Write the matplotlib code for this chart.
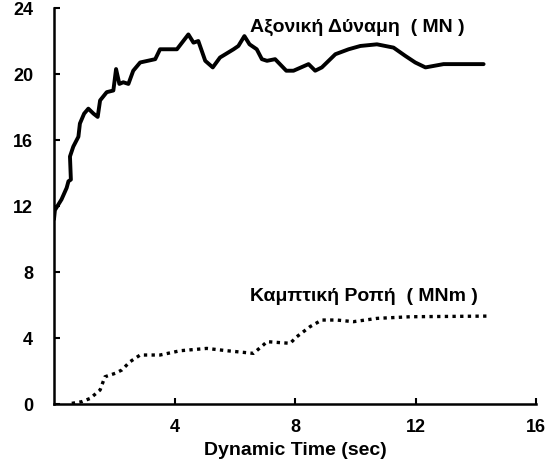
import matplotlib
matplotlib.use("Agg")
import matplotlib.pyplot as plt

plt.rcParams['font.family'] = ['Liberation Sans', 'DejaVu Sans']
plt.rcParams['font.weight'] = 'bold'

# axial force (MN) vs dynamic time (sec)
t_axial = [0.0, 0.03, 0.25, 0.42, 0.48, 0.56, 0.53, 0.64, 0.81, 0.86, 1.0, 1.14, 1.31, 1.45,
           1.53, 1.75, 1.97, 2.06, 2.17, 2.30, 2.47, 2.63, 2.86, 3.36, 3.52, 4.08, 4.46, 4.63,
           4.79, 5.02, 5.27, 5.51, 5.96, 6.12, 6.32, 6.49, 6.73, 6.90, 7.07, 7.34, 7.71, 7.95,
           8.45, 8.67, 8.89, 9.34, 9.78, 10.17, 10.72, 11.27, 11.66, 11.99, 12.33, 12.93, 14.26]
axial = [11.2, 11.75, 12.4, 13.1, 13.5, 13.6, 15.0, 15.6, 16.2, 17.0, 17.6, 17.9, 17.6, 17.4,
         18.4, 18.9, 19.0, 20.3, 19.4, 19.5, 19.4, 20.2, 20.7, 20.9, 21.5, 21.5, 22.4, 21.9,
         22.0, 20.8, 20.4, 21.0, 21.5, 21.7, 22.3, 21.8, 21.5, 20.9, 20.8, 20.9, 20.2, 20.2,
         20.6, 20.2, 20.4, 21.2, 21.5, 21.7, 21.8, 21.6, 21.1, 20.7, 20.4, 20.6, 20.6]

# bending moment (MNm)
t_moment = [0.59, 0.92, 1.2, 1.53, 1.69, 2.03, 2.25, 2.52, 2.86, 3.52, 4.19, 5.07, 5.74, 6.62,
            6.95, 7.07, 7.51, 7.84, 8.06, 8.5, 8.89, 9.39, 9.94, 10.72, 11.83, 14.48]
moment = [0.04, 0.14, 0.34, 0.85, 1.65, 1.86, 2.06, 2.56, 2.97, 2.97, 3.23, 3.37, 3.23, 3.07,
          3.58, 3.78, 3.72, 3.68, 4.08, 4.69, 5.09, 5.09, 4.99, 5.19, 5.29, 5.33]

x_ticks = [4, 8, 12, 16]
y_ticks = [0, 4, 8, 12, 16, 20, 24]

fig = plt.figure(figsize=(5.55, 4.66), dpi=100)
ax = fig.add_axes([0.0973, 0.133, 0.8685, 0.8498])

ax.plot(t_axial, axial, color='black', lw=2.8, solid_joinstyle='round', solid_capstyle='round')
ax.plot(t_moment, moment, color='black', lw=2.4, linestyle=(0, (1, 1.3)))

ax.set_xlim(0, 16)
ax.set_ylim(0, 24)
ax.set_xticks(x_ticks)
ax.set_yticks(y_ticks)
ax.tick_params(direction='in', length=4, width=1.5, labelsize=13)
ax.tick_params(axis='y', pad=15)
ax.tick_params(axis='x', pad=11)
for s in ['top', 'right']:
    ax.spines[s].set_visible(False)
for s in ['left', 'bottom']:
    ax.spines[s].set_linewidth(1.8)

ax.set_xlabel('Dynamic Time (sec)', fontsize=14, fontweight='bold', labelpad=4)

ax.text(6.5, 22.8, 'Αξονική Δύναμη  ( MN )', fontsize=14, fontweight='bold', va='center')
ax.text(6.5, 6.5, 'Καμπτική Ροπή  ( MNm )', fontsize=14, fontweight='bold', va='center')

fig.savefig('out.png', dpi=100)
